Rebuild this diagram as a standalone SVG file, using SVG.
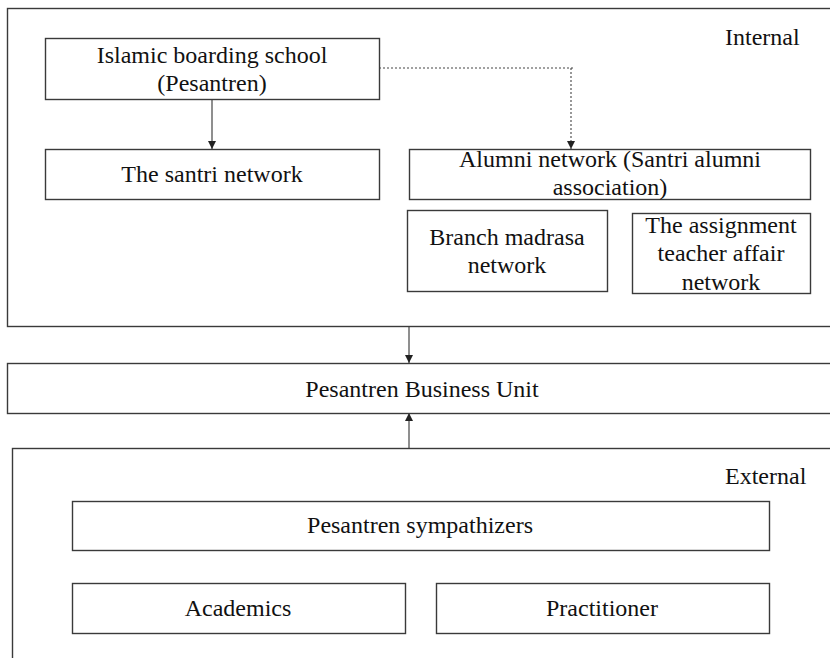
<svg xmlns="http://www.w3.org/2000/svg" width="830" height="658" viewBox="0 0 830 658">
<style>
.box{fill:#fff;stroke:#3a3a3a;stroke-width:1.4}
.frame{fill:none;stroke:#3a3a3a;stroke-width:1.4}
text{font-family:"Liberation Serif","Times New Roman",serif;font-size:24px;fill:#111}
.c{text-anchor:middle}
.ln{fill:none;stroke:#333;stroke-width:1.1}
.dot{fill:none;stroke:#444;stroke-width:1.1;stroke-dasharray:2 2}
</style>
<defs>
<marker id="ah" viewBox="0 0 8 8" refX="8" refY="4" markerWidth="8" markerHeight="8" markerUnits="userSpaceOnUse" orient="auto">
<path d="M0,0 L8,4 L0,8 Z" fill="#222"/>
</marker>
</defs>
<rect width="830" height="658" fill="#fff"/>
<g id="internal">
<rect class="frame" x="7.5" y="8.5" width="830" height="318"/>
<text x="725" y="45">Internal</text>
</g>
<g id="external">
<rect class="frame" x="12.5" y="448.5" width="830" height="230"/>
<text x="725" y="484">External</text>
</g>
<g id="connectors">
<line class="ln" x1="212" y1="99" x2="212" y2="149" marker-end="url(#ah)"/>
<polyline class="dot" points="379,68 575,68"/>
<line class="dot" x1="571" y1="68" x2="571" y2="149" marker-end="url(#ah)"/>
<line class="ln" x1="409" y1="327" x2="409" y2="363" marker-end="url(#ah)"/>
<line class="ln" x1="409" y1="448" x2="409" y2="413" marker-end="url(#ah)"/>
</g>
<g id="pesantren">
<rect class="box" x="45.5" y="38.5" width="334" height="61"/>
<text class="c" x="212" y="63">Islamic boarding school</text>
<text class="c" x="212" y="91">(Pesantren)</text>
</g>
<g id="santri">
<rect class="box" x="45.5" y="149.5" width="334" height="50"/>
<text class="c" x="212" y="182">The santri network</text>
</g>
<g id="alumni">
<rect class="box" x="409.5" y="149.5" width="401" height="50"/>
<text class="c" x="610" y="167">Alumni network (Santri alumni</text>
<text class="c" x="610" y="195">association)</text>
</g>
<g id="branch">
<rect class="box" x="407.5" y="210.5" width="200" height="81"/>
<text class="c" x="507" y="245">Branch madrasa</text>
<text class="c" x="507" y="273">network</text>
</g>
<g id="assignment">
<rect class="box" x="632.5" y="213.5" width="178" height="80"/>
<text class="c" x="721" y="233">The assignment</text>
<text class="c" x="721" y="261">teacher affair</text>
<text class="c" x="721" y="290">network</text>
</g>
<g id="business">
<rect class="box" x="7.5" y="363.5" width="830" height="50"/>
<text class="c" x="422" y="397">Pesantren Business Unit</text>
</g>
<g id="sympathizers">
<rect class="box" x="72.5" y="501.5" width="697" height="49"/>
<text class="c" x="420" y="533">Pesantren sympathizers</text>
</g>
<g id="academics">
<rect class="box" x="72.5" y="583.5" width="333" height="50"/>
<text class="c" x="238" y="616">Academics</text>
</g>
<g id="practitioner">
<rect class="box" x="436.5" y="583.5" width="333" height="50"/>
<text class="c" x="602" y="616">Practitioner</text>
</g>
</svg>
